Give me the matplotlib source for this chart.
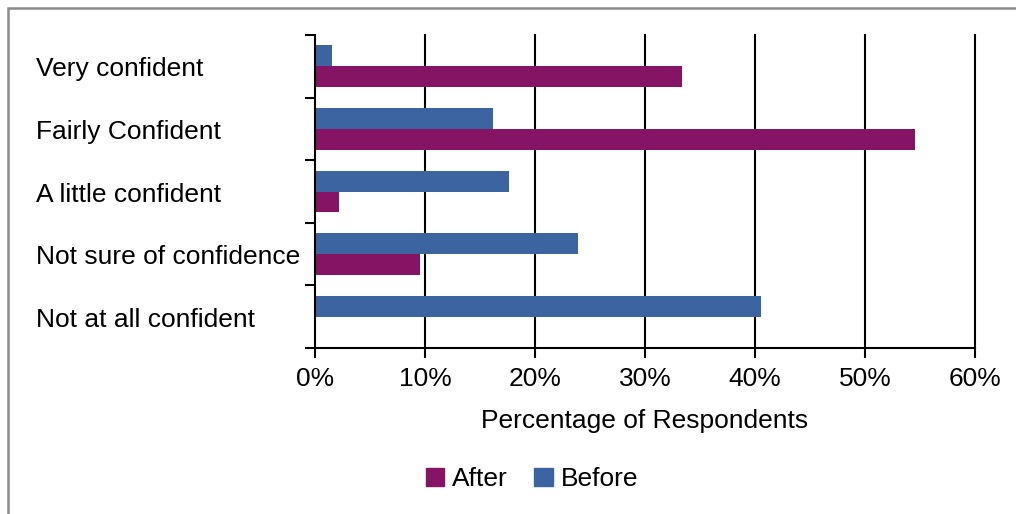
import matplotlib.pyplot as plt
from matplotlib.patches import Rectangle, Patch
import matplotlib.transforms as mtransforms

plt.rcParams['font.family'] = ['Liberation Sans', 'DejaVu Sans']

categories = ['Very confident', 'Fairly Confident', 'A little confident',
              'Not sure of confidence', 'Not at all confident']
before = [1.5, 16.2, 17.6, 23.9, 40.5]
after = [33.4, 54.5, 2.2, 9.5, 0.0]
xticks = [0, 10, 20, 30, 40, 50, 60]
xticklabels = ['0%', '10%', '20%', '30%', '40%', '50%', '60%']

c_before = '#3B64A0'
c_after = '#861465'
fs = 19

fig = plt.figure(figsize=(10.16, 5.14), dpi=100)
ax = fig.add_axes([315/1016, 1-348/514, 660/1016, 313/514])

# outer grey frame of the chart area
fig.patches.append(Rectangle((8/1016, -0.1), 1.2, 1-8/514+0.1, transform=fig.transFigure,
                             fill=False, edgecolor='#8c8c8c', linewidth=1.8))

n = len(categories)
ypos = [n - 1 - i for i in range(n)]
h = 0.335
ax.barh([y + h/2 for y in ypos], before, height=h, color=c_before, zorder=3)
ax.barh([y - h/2 for y in ypos], after, height=h, color=c_after, zorder=3)

ax.set_xlim(0, 60)
ax.set_ylim(-0.5, n - 0.5)
ax.set_xticks(xticks)
ax.set_xticklabels(xticklabels, fontsize=fs)
ax.set_yticks([y - 0.5 for y in range(n + 1)])
ax.set_yticklabels([])
ax.tick_params(axis='both', length=7.5, width=1.5, color='black')
ax.tick_params(axis='x', pad=6)

for x in xticks[1:]:
    ax.axvline(x, color='black', linewidth=1.5, zorder=1, clip_on=False)

for s in ['top', 'right']:
    ax.spines[s].set_visible(False)
for s in ['left', 'bottom']:
    ax.spines[s].set_linewidth(1.5)
    ax.spines[s].set_zorder(4)

trans = mtransforms.blended_transform_factory(fig.transFigure, ax.transData)
for y, lab in zip(ypos, categories):
    ax.text(36/1016, y - 0.05, lab, transform=trans, ha='left', va='center', fontsize=fs)

ax.set_xlabel('Percentage of Respondents', fontsize=fs, labelpad=13)

handles = [Patch(color=c_after, label='After'), Patch(color=c_before, label='Before')]
fig.legend(handles=handles, loc='center', bbox_to_anchor=(532/1016, 1-479/514), ncol=2,
           frameon=False, fontsize=fs, handlelength=0.7, handleheight=0.7,
           handletextpad=0.3, columnspacing=1.0)

fig.savefig('out.png', dpi=100)
